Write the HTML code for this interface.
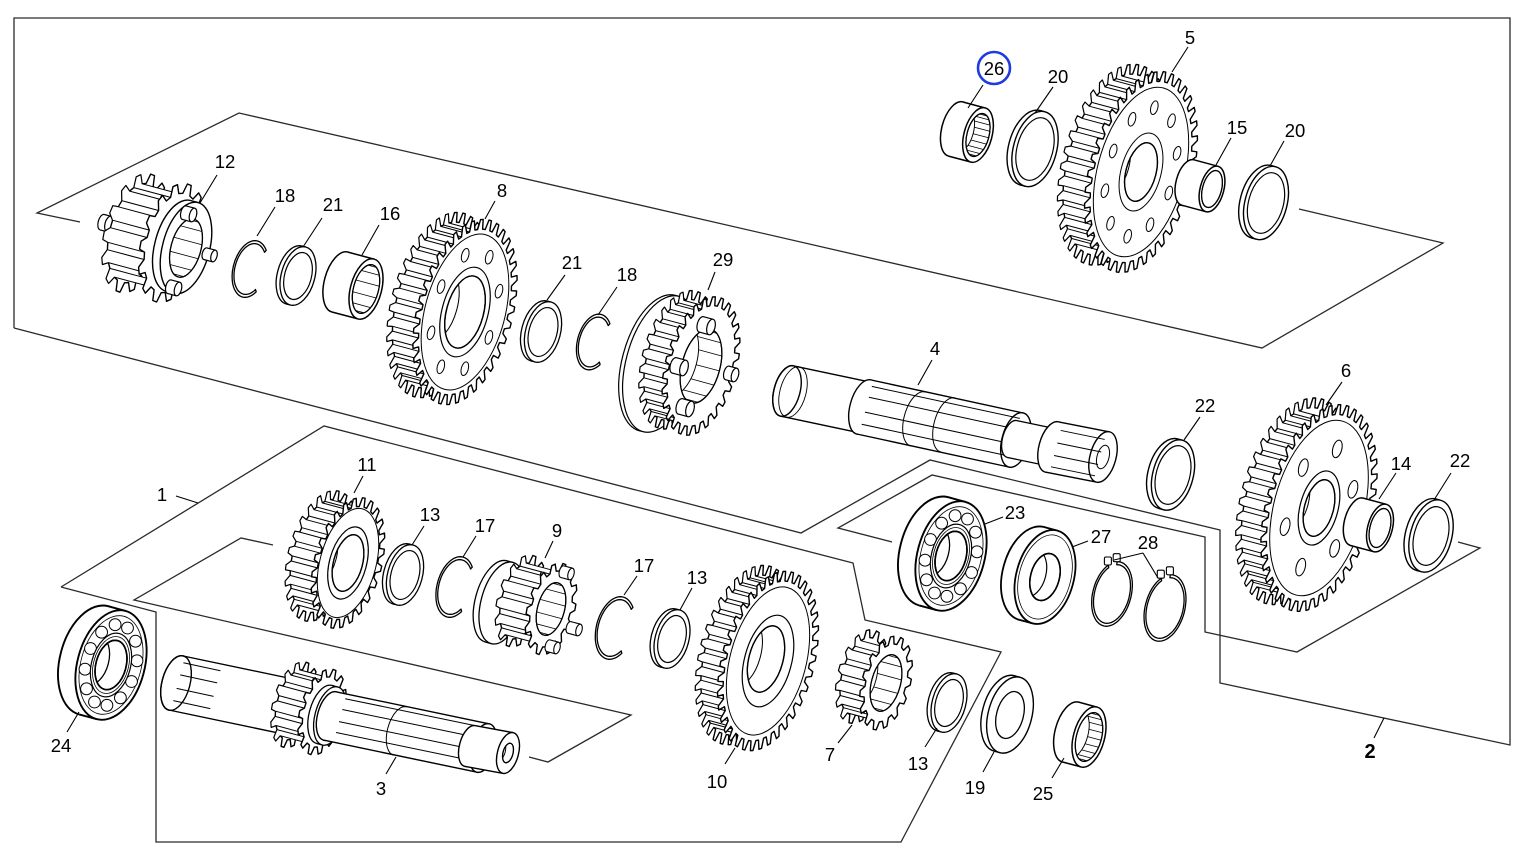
<!DOCTYPE html>
<html><head><meta charset="utf-8">
<style>
html,body{margin:0;padding:0;background:#fff;width:1526px;height:862px;overflow:hidden}
svg{display:block}
.t text{font-family:"Liberation Sans",Arial,sans-serif;font-size:18.5px;fill:#000;text-anchor:middle}
</style></head><body>
<svg id="d" width="1526" height="862" viewBox="0 0 1526 862" xmlns="http://www.w3.org/2000/svg">
<rect width="1526" height="862" fill="#fff"/>
<g fill="none" stroke="#2a2a2a" stroke-width="1.3" stroke-linejoin="miter">
<polyline points="14,328 14,18 1510,18 1510,745 1220,683 1220,530 930,460 801,533 14,328"/>
<polyline points="80,222 37,213 239,113 1262,348 1443,243 1299,209"/>
<polyline points="892,542 838,528 932,475 1205,537 1205,632 1297,652 1480,548 1458,542"/>
<polyline points="61,587 324,426 853,563 865,620 1001,652 901,842 156,842 156,612 61,587"/>
<polyline points="273,545 241,538 134,600 631,715 548,762 529,757"/>
</g>
<g id="parts"></g>
<g fill="none" stroke="#000" stroke-width="1.1">
<path d="M217,175L200,203 M275,207L257,236 M322,218L303,247 M379,225L362,255 M495,201L485,219 M565,275L547,300 M617,287L598,315 M715,272L708,290 M932,360L918,385 M983,85L968,108 M1053,87L1035,113 M1188,47L1172,72 M1231,138L1216,165 M1284,141L1270,166 M1200,417L1184,440 M1342,382L1326,405 M1396,473L1379,499 M1451,473L1434,500 M363,476L354,493 M424,526L412,545 M476,536L463,557 M553,541L545,558 M637,576L624,595 M692,588L680,610 M725,764L735,748 M838,743L852,725 M925,747L937,728 M983,772L994,752 M1052,778L1064,758 M386,774L396,757 M67,732L79,712 M1003,517L985,524 M1088,541L1072,547 M1143,553L1114,560 M1143,553L1158,578 M176,496L198,503 M1384,718L1374,738"/>
</g>
<g class="t">
<text x="225" y="168">12</text><text x="285" y="202">18</text><text x="333" y="211">21</text><text x="390" y="220">16</text>
<text x="502" y="197">8</text><text x="572" y="269">21</text><text x="627" y="281">18</text><text x="723" y="266">29</text>
<text x="935" y="355">4</text><text x="994" y="75">26</text><text x="1058" y="83">20</text><text x="1190" y="44">5</text>
<text x="1237" y="134">15</text><text x="1295" y="137">20</text><text x="1205" y="412">22</text><text x="1346" y="377">6</text>
<text x="1401" y="470">14</text><text x="1460" y="467">22</text><text x="367" y="471">11</text><text x="430" y="521">13</text>
<text x="485" y="532">17</text><text x="557" y="537">9</text><text x="644" y="572">17</text><text x="697" y="584">13</text>
<text x="717" y="788">10</text><text x="830" y="761">7</text><text x="918" y="770">13</text><text x="975" y="794">19</text>
<text x="1043" y="800">25</text><text x="381" y="795">3</text><text x="61" y="752">24</text><text x="1015" y="519">23</text>
<text x="1101" y="543">27</text><text x="1148" y="549">28</text><text x="162" y="501">1</text>
<text x="1370" y="758" style="font-weight:bold;font-size:20px">2</text>
</g>
<circle cx="994" cy="68" r="16" fill="none" stroke="#1f3be0" stroke-width="2.6"/>
</svg>
<script>
(function(){
var D=Math.PI/180,A,ax,ay,mx,my,K=0.5;
function setA(d){A=d*D;ax=Math.cos(A);ay=Math.sin(A);mx=-Math.sin(A);my=Math.cos(A);}
setA(15);
function f(n){return (+n).toFixed(1);}
function P(cx,cy,r,th){var c=Math.cos(th),s=Math.sin(th);return [cx+r*(K*c*ax+s*mx),cy+r*(K*c*ay+s*my)];}
function pl(p,z){return 'M'+p.map(function(q){return f(q[0])+','+f(q[1]);}).join('L')+(z?'Z':'');}
var o='',cid=0;
function pth(d,fill,sw){o+='<path d="'+d+'" fill="'+fill+'" stroke="#000" stroke-width="'+sw+'" stroke-linejoin="round"/>';}
function eS(cx,cy,r){return 'cx="'+f(cx)+'" cy="'+f(cy)+'" rx="'+f(r*K)+'" ry="'+f(r)+'" transform="rotate('+f(A/D)+' '+f(cx)+' '+f(cy)+')"';}
function E(cx,cy,r,fill,sw){o+='<ellipse '+eS(cx,cy,r)+' fill="'+fill+'" stroke="#000" stroke-width="'+sw+'"/>';}
function ln(x1,y1,x2,y2,sw){o+='<line x1="'+f(x1)+'" y1="'+f(y1)+'" x2="'+f(x2)+'" y2="'+f(y2)+'" stroke="#000" stroke-width="'+(sw||1)+'"/>';}
function cyl(bx,by,fx,fy,R,sw,ff){
 E(bx,by,R,'#fff',sw);
 var q=[[bx-R*mx,by-R*my],[fx-R*mx,fy-R*my],[fx+R*mx,fy+R*my],[bx+R*mx,by+R*my]];
 o+='<path d="'+pl(q,1)+'" fill="#fff" stroke="none"/>';
 o+='<path d="'+pl([q[0],q[1]])+pl([q[3],q[2]])+'" fill="none" stroke="#000" stroke-width="'+sw+'"/>';
 E(fx,fy,R,ff||'#fff',sw);
}
function hull(cx,cy,R,t,sw,ff){cyl(cx-t*ax,cy-t*ay,cx,cy,R,sw,ff);}
function bore(cx,cy,r,t,sw,nl){
 var id='c'+(cid++);
 o+='<clipPath id="'+id+'"><ellipse '+eS(cx,cy,r)+'/></clipPath>';
 E(cx,cy,r,'#fff',sw);
 o+='<g clip-path="url(#'+id+')">';
 E(cx-t*ax,cy-t*ay,r,'none',sw*0.8);
 if(nl){for(var i=0;i<nl;i++){var th=(-70+140*i/(nl-1))*D;var p=P(cx,cy,r,th);ln(p[0],p[1],p[0]-t*ax,p[1]-t*ay,0.8);}}
 o+='</g>';
 E(cx,cy,r,'none',sw);
}
function teeth(cx,cy,R,n,d,ph){var p=2*Math.PI/n,a=[];for(var i=0;i<n;i++){var t=i*p+ph;a.push(P(cx,cy,R-d,t),P(cx,cy,R,t+0.18*p),P(cx,cy,R,t+0.48*p),P(cx,cy,R-d,t+0.66*p));}return a;}
function gear(cx,cy,R,n,d,t,sw){
 sw=sw||1.4;var ph=0.13,bx=cx-t*ax,by=cy-t*ay;
 var F=teeth(cx,cy,R,n,d,ph),B=teeth(bx,by,R,n,d,ph);
 pth(pl(B,1),'#fff',sw);
 var p=2*Math.PI/n,L=[];
 for(var i=0;i<n;i++){var th=i*p+ph+0.33*p;L.push([Math.cos(th),i]);}
 L.sort(function(u,v){return v[0]-u[0];});
 for(var j=0;j<L.length;j++){var c=L[j][0],k=4*L[j][1];if(c>-0.3)continue;
  pth(pl([B[k],B[k+1],B[k+2],B[k+3],F[k+3],F[k+2],F[k+1],F[k]],1),'#fff',1);}
 pth(pl(F,1),'#fff',sw);
}
function holes(cx,cy,rr,n,hr,ph){for(var i=0;i<n;i++){var p=P(cx,cy,rr,ph+i*2*Math.PI/n);E(p[0],p[1],hr,'#fff',1);}}
function arc(cx,cy,r,t1,t2,sw){var a=[];for(var i=0;i<=30;i++){a.push(P(cx,cy,r,(t1+(t2-t1)*i/30)*D));}o+='<path d="'+pl(a)+'" fill="none" stroke="#000" stroke-width="'+sw+'"/>';}
function axl(x1,y1,x2,y2,R,offs,sw){var d='';for(var i=0;i<offs.length;i++){var s=offs[i];d+='M'+f(x1+s*R*mx)+','+f(y1+s*R*my)+'L'+f(x2+s*R*mx)+','+f(y2+s*R*my);}o+='<path d="'+d+'" fill="none" stroke="#000" stroke-width="'+(sw||1)+'"/>';}
function clip(cx,cy,R,w,g1,g2){
 var t1=g2*D,t2=(g1+360)*D,n=48,a=[],b=[];
 for(var i=0;i<=n;i++){var t=t1+(t2-t1)*i/n;a.push(P(cx,cy,R,t));b.push(P(cx,cy,R-w,t));}
 pth(pl(a.concat(b.reverse()),1),'#fff',1.3);
}
function clip28(cx,cy,R,g1,g2){
 clip(cx,cy,R,3,g1,g2);
 var ends=[P(cx,cy,R,g1*D),P(cx,cy,R,g2*D)];
 for(var i=0;i<2;i++){var p=ends[i];o+='<rect x="'+f(p[0]-4)+'" y="'+f(p[1]-8)+'" width="7" height="8" rx="1.5" fill="#fff" stroke="#000" stroke-width="1.1"/>';}
}
function bearing(cx,cy,R,t){
 hull(cx,cy,R,t,1.9);
 E(cx,cy,R*0.9,'none',0.8);
 for(var i=0;i<12;i++){var p=P(cx,cy,R*0.74,i*Math.PI/6+0.26);o+='<circle cx="'+f(p[0])+'" cy="'+f(p[1])+'" r="'+f(R*0.105)+'" fill="#fff" stroke="#000" stroke-width="1"/>';}
 E(cx,cy,R*0.58,'#fff',1.2);
 E(cx,cy,R*0.52,'none',0.8);
 bore(cx,cy,R*0.45,t,1.6);
}

/* ===== upper group ===== */
K=0.5;
hull(109,224,8,7,1.2);
gear(172,243,61,14,10,38);
hull(186,248,47,8,1.4);
bore(186,248,30,30,1.2,6);
hull(193,215,7,9,1.2); hull(214,256,6,9,1.2); hull(178,289,7,9,1.2);
K=0.58; clip(250,269,29,3,-50,45);
K=0.56; hull(298,276,30,4,1.3); E(298,276,24,'#fff',1.2);
K=0.5; hull(366,289,31,27,1.5); bore(366,289,25,27,1.2,6);
gear(465,312,95,36,10,27); E(465,312,80,'none',1); holes(465,312,62,8,7,0.3); E(465,312,46,'#fff',1.2); bore(465,312,37,27,1.3);
K=0.56; hull(543,332,31,4,1.3); E(543,332,25,'#fff',1.2);
K=0.58; clip(594,342,28.5,3,-50,45);
K=0.5; hull(661,364,70,4,1.2); gear(701,366,71,26,9,24); bore(701,366,38,24,1.2,7);
hull(711,327,8,10,1.2); hull(684,368,8,10,1.2); hull(690,409,8,10,1.2); hull(735,375,7,8,1.2);

/* shaft 4 */
K=0.5;
cyl(787,391,872,409,26,1.4); E(787,391,26,'none',1.4); E(793,392,26,'none',0.9);
cyl(864,407,1016,440,28,1.4);
axl(866,408,1014,440,28,[-0.8,-0.4,0.15,0.6],1);
arc(918,419,28,90,270,1); arc(948,425,28,90,270,1);
cyl(1012,439,1055,448,19,1.3);
cyl(1052,447,1103,457,26,1.4); axl(1056,448,1100,457,26,[-0.7,-0.2,0.3,0.75],0.9); E(1103,457,12,'none',1);

/* top right */
K=0.5; hull(978,135,28,23,1.5); bore(978,135,22,16,1.2,9);
K=0.56; hull(1035,149,38.5,5,1.4); E(1035,149,32,'#fff',1.2);
K=0.5; gear(1141,172,103,38,10,28); E(1141,172,87,'none',1); holes(1141,172,66,10,7,0.2); E(1141,172,40,'none',1); bore(1141,172,30,28,1.3);
hull(1212,189,23.5,25,1.5); bore(1212,189,19,25,1.2);
K=0.56; hull(1266,203,37.5,5,1.4); E(1266,203,31,'#fff',1.2);
hull(1173,475,36,5,1.4); E(1173,475,30,'#fff',1.2);
K=0.5; gear(1319,508,106,40,10,26); E(1319,508,90,'none',1); holes(1319,508,62,6,9,0.6); E(1319,508,38,'none',1.2); bore(1319,508,29,26,1.3);
hull(1380,528,24.5,24,1.5); bore(1380,528,20,24,1.2);
K=0.56; hull(1431,536,37,5,1.4); E(1431,536,30,'#fff',1.2);

/* ===== lower group ===== */
K=0.6; bearing(111,665,56,18);
K=0.5;
cyl(176,683,300,709,28,1.4); E(176,683,28,'none',1.4); axl(178,683,215,691,28,[-0.75,-0.3,0.2,0.65],1);
gear(322,712,44,14,8,28);
hull(330,716,30,6,1.3);
cyl(330,716,483,748,25,1.4); axl(340,718,480,747,25,[-0.8,-0.35,0.15,0.6],1); arc(400,731,25,90,270,1);
cyl(470,746,508,753,21,1.4); bore(508,753,10,8,1.2);

K=0.5; gear(348,563,67,24,9,27); E(348,563,56,'none',1); E(348,563,37,'#fff',1.2); bore(348,563,29,27,1.3);
K=0.56; hull(405,575,31,4,1.3); E(405,575,25,'#fff',1.2);
K=0.58; clip(455,587,31,3,-50,45);
K=0.5; hull(502,603,42,6,1.3); gear(551,609,47,14,8,31); bore(551,609,27,31,1.2,6);
hull(571,574,6,9,1.1); hull(579,630,6,10,1.1); hull(557,648,6,9,1.1);
K=0.58; clip(615,628,32,3,-50,45);
K=0.56; hull(672,639,30,4,1.3); E(672,639,24,'#fff',1.2);
K=0.5; gear(768,661,92,36,10,23); E(768,661,76,'none',1); E(768,661,47,'none',1.2); bore(766,659,34,23,1.3);
gear(886,683,48,15,8,25); bore(886,683,29,25,1.2,6);
K=0.56; hull(949,703,30,4,1.3); E(949,703,24,'#fff',1.2);
hull(1010,715,39,6,1.4); E(1010,715,24,'#fff',1.3);
K=0.5; hull(1089,737,31,19,1.5); bore(1089,737,25,14,1.2,9);
K=0.6; bearing(951,556,56,18);
hull(1045,577,48,14,1.8); E(1045,577,43,'none',0.8); bore(1045,577,24,14,1.5);
K=0.58; clip28(1112,594,33,-125,-100); clip28(1165,608,34,-125,-100);

document.getElementById('parts').innerHTML=o;
})();
</script>
</body></html>
